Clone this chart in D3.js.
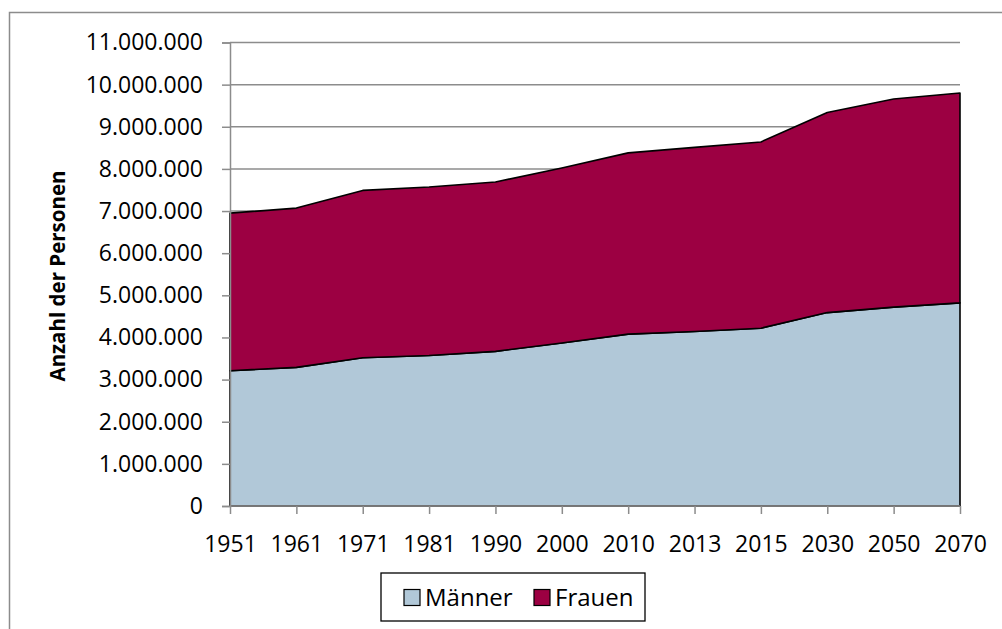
<!DOCTYPE html>
<html>
<head>
<meta charset="utf-8">
<script src="https://cdn.jsdelivr.net/npm/d3@7/dist/d3.min.js"></script>
<style>
  body { margin: 0; background: #fff; }
  text { font-family: "Open Sans", sans-serif; fill: #000; }
</style>
</head>
<body>
<svg id="chart" width="1002" height="629"></svg>
<script>
// data
const years = ["1951", "1961", "1971", "1981", "1990", "2000", "2010", "2013", "2015", "2030", "2050", "2070"];
const maenner = [3210000, 3290000, 3520000, 3570000, 3670000, 3870000, 4080000, 4140000, 4220000, 4590000, 4720000, 4820000];
const frauen = [3740000, 3780000, 3970000, 4000000, 4020000, 4150000, 4300000, 4370000, 4420000, 4750000, 4940000, 4980000];
const series_names = ["Männer", "Frauen"];
const series_colors = ["#b1c8d8", "#9c0042"];
const y_ticks = d3.range(0, 11000001, 1000000);

const width = 1002, height = 629;
const plot_left = 230, plot_right = 960, plot_top = 42.5, plot_bottom = 506;

const svg = d3.select("#chart");

// outer frame (runs off the right and bottom edge)
svg.append("rect")
	.attr("x", 9.5).attr("y", 12.5)
	.attr("width", 1100).attr("height", 700)
	.attr("fill", "none").attr("stroke", "#8c8c8c").attr("stroke-width", 1.5);

const x = d3.scalePoint().domain(years).range([plot_left, plot_right]);
const y = d3.scaleLinear().domain([0, 11000000]).range([plot_bottom, plot_top]);

const de = d3.formatLocale({decimal: ",", thousands: ".", grouping: [3], currency: ["", " €"]});
const fmt = de.format(",d");

// gridlines
svg.append("g").classed("grid", true)
	.selectAll("line")
	.data(y_ticks.filter(d => d > 0))
	.join("line")
	.attr("x1", plot_left).attr("x2", plot_right)
	.attr("y1", d => y(d)).attr("y2", d => y(d))
	.attr("stroke", "#8c8c8c").attr("stroke-width", 1.5);

// stacked areas
const table = years.map((yr, i) => ({year: yr, "Männer": maenner[i], "Frauen": frauen[i]}));
const stack = d3.stack().keys(series_names);
const layers = stack(table);

const area = d3.area()
	.x(d => x(d.data.year))
	.y0(d => y(d[0]))
	.y1(d => y(d[1]));

svg.append("g").classed("areas", true)
	.selectAll("path")
	.data(layers)
	.join("path")
	.attr("d", area)
	.attr("fill", (d, i) => series_colors[i])
	.attr("stroke", "#000")
	.attr("stroke-width", 1.6)
	.attr("stroke-linejoin", "round");

// y axis
const yAxis = svg.append("g")
	.attr("transform", `translate(${plot_left},0)`)
	.call(d3.axisLeft(y).tickValues(y_ticks).tickFormat(fmt).tickSize(8).tickPadding(19));
yAxis.select(".domain").attr("stroke", "#8c8c8c").attr("stroke-width", 1.5);
yAxis.selectAll(".tick line").attr("stroke", "#8c8c8c").attr("stroke-width", 1.5);
yAxis.selectAll(".tick text").attr("font-size", 23).attr("font-family", "Open Sans, sans-serif").attr("fill", "#000");

// x axis
const xAxis = svg.append("g")
	.attr("transform", `translate(0,${plot_bottom})`)
	.call(d3.axisBottom(x).tickSize(8).tickPadding(22));
xAxis.select(".domain").attr("stroke", "#8c8c8c").attr("stroke-width", 1.5).attr("d", `M${plot_left},0H${plot_right}`);
xAxis.selectAll(".tick line").attr("stroke", "#8c8c8c").attr("stroke-width", 1.5);
xAxis.selectAll(".tick text").attr("font-size", 23).attr("font-family", "Open Sans, sans-serif").attr("fill", "#000");

// y axis title
svg.append("text")
	.attr("transform", "translate(65,276) rotate(-90)")
	.attr("text-anchor", "middle")
	.attr("font-size", 20.5)
	.attr("font-weight", "bold")
	.text("Anzahl der Personen");

// legend
const legend = svg.append("g").classed("legend", true);
legend.append("rect")
	.attr("x", 381).attr("y", 573)
	.attr("width", 264).attr("height", 48)
	.attr("fill", "#fff").attr("stroke", "#000").attr("stroke-width", 1.3);

const legend_x = [404, 534];
series_names.forEach((name, i) => {
	legend.append("rect")
		.attr("x", legend_x[i]).attr("y", 589.5)
		.attr("width", 16).attr("height", 16)
		.attr("fill", series_colors[i]).attr("stroke", "#000").attr("stroke-width", 1.2);
	legend.append("text")
		.attr("x", legend_x[i] + 21).attr("y", 606)
		.attr("font-size", 24)
		.text(name);
});
</script>
</body>
</html>
